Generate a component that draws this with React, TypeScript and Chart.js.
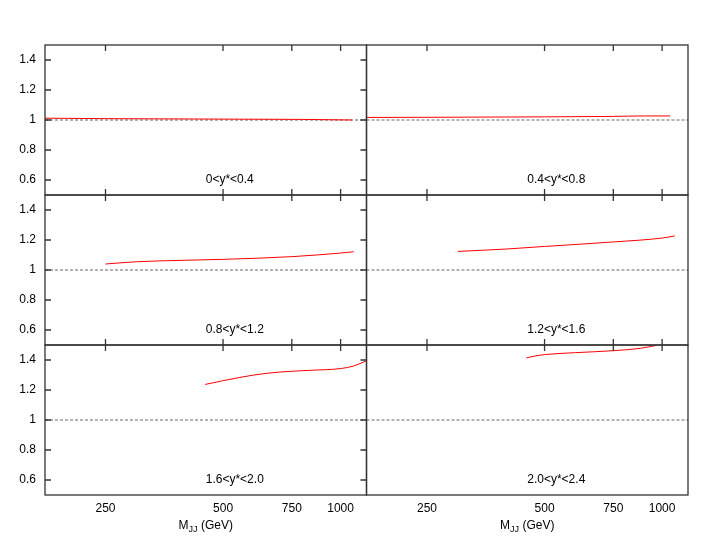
import React, { useEffect, useRef } from 'react';
import { Chart, registerables } from 'chart.js';

Chart.register(...registerables);

// ---- axis ticks and ranges ----
const xTickValues = [250, 500, 750, 1000];
const yTickValues = [0.6, 0.8, 1.0, 1.2, 1.4];
const xRange = [175, 1165];
const yRange = [0.5, 1.5];

// ---- panel labels (rapidity bins) ----
const panelLabels = ['0<y*<0.4', '0.4<y*<0.8', '0.8<y*<1.2', '1.2<y*<1.6', '1.6<y*<2.0', '2.0<y*<2.4'];

// ---- series: M_JJ (GeV) and ratio per rapidity bin ----
const mass1 = [175, 250, 500, 800, 1070];
const ratio1 = [1.012, 1.009, 1.006, 1.004, 1.0];

const mass2 = [175, 250, 500, 750, 900, 1048];
const ratio2 = [1.017, 1.018, 1.021, 1.024, 1.027, 1.027];

const mass3 = [250, 300, 400, 500, 750, 1000, 1080];
const ratio3 = [1.04, 1.055, 1.065, 1.071, 1.089, 1.113, 1.122];

const mass4 = [300, 400, 500, 750, 1000, 1077];
const ratio4 = [1.124, 1.14, 1.157, 1.187, 1.213, 1.227];

const mass5 = [450, 500, 600, 700, 850, 1000, 1080, 1165];
const ratio5 = [1.237, 1.262, 1.3, 1.32, 1.332, 1.343, 1.36, 1.395];

const mass6 = [449, 475, 500, 600, 750, 880, 965];
const ratio6 = [1.414, 1.428, 1.436, 1.449, 1.462, 1.478, 1.497];

// reference line at ratio 1
const refMass = [175, 1165];
const refRatio = [1, 1];

const massSeries = [mass1, mass2, mass3, mass4, mass5, mass6];
const ratioSeries = [ratio1, ratio2, ratio3, ratio4, ratio5, ratio6];

const X_IDS = ['xL', 'xR'];
const Y_IDS = ['yTop', 'yMid', 'yBot'];

const FONT = "'Liberation Sans', Arial, Helvetica, sans-serif";
const FRAME = '#333333';

const toPoints = (xs: number[], ys: number[]) => xs.map((x, i) => ({ x, y: ys[i] }));

const decorPlugin = {
  id: 'decor',
  afterDatasetsDraw(chart: any) {
    const ctx = chart.ctx as CanvasRenderingContext2D;
    const tick = 6;
    ctx.save();
    ctx.strokeStyle = FRAME;
    ctx.lineWidth = 1.3;
    for (let r = 0; r < 3; r++) {
      for (let c = 0; c < 2; c++) {
        const xs = chart.scales[X_IDS[c]];
        const ys = chart.scales[Y_IDS[r]];
        ctx.strokeRect(xs.left, ys.top, xs.right - xs.left, ys.bottom - ys.top);
        ctx.beginPath();
        for (const v of xTickValues) {
          const px = xs.getPixelForValue(v);
          ctx.moveTo(px, ys.top);
          ctx.lineTo(px, ys.top + tick);
          if (r < 2) {
            ctx.moveTo(px, ys.bottom);
            ctx.lineTo(px, ys.bottom - tick);
          }
        }
        if (c === 0) {
          for (const v of yTickValues) {
            const py = ys.getPixelForValue(v);
            ctx.moveTo(xs.left, py);
            ctx.lineTo(xs.left + tick, py);
            ctx.moveTo(xs.right, py);
            ctx.lineTo(xs.right - tick, py);
          }
        }
        ctx.stroke();
        // panel label
        ctx.fillStyle = '#000';
        ctx.font = `12px ${FONT}`;
        ctx.textAlign = 'left';
        ctx.textBaseline = 'middle';
        ctx.fillText(panelLabels[r * 2 + c], (xs.left + xs.right) / 2, ys.getPixelForValue(0.6));
      }
    }
    // axis titles M_JJ (GeV)
    for (let c = 0; c < 2; c++) {
      const xs = chart.scales[X_IDS[c]];
      const cx = (xs.left + xs.right) / 2;
      const y = xs.top + 31;
      ctx.font = `12px ${FONT}`;
      const wM = ctx.measureText('M').width;
      const wRest = ctx.measureText(' (GeV)').width;
      ctx.font = `9px ${FONT}`;
      const wSub = ctx.measureText('JJ').width;
      let x = cx - (wM + wSub + wRest) / 2;
      ctx.textAlign = 'left';
      ctx.textBaseline = 'middle';
      ctx.fillStyle = '#000';
      ctx.font = `12px ${FONT}`;
      ctx.fillText('M', x, y);
      x += wM;
      ctx.font = `9px ${FONT}`;
      ctx.fillText('JJ', x, y + 3.5);
      x += wSub;
      ctx.font = `12px ${FONT}`;
      ctx.fillText(' (GeV)', x, y);
    }
    ctx.restore();
  },
};

export default function App() {
  const canvasRef = useRef<HTMLCanvasElement | null>(null);

  useEffect(() => {
    const canvas = canvasRef.current;
    if (!canvas) return;

    const datasets: any[] = [];
    for (let i = 0; i < 6; i++) {
      const r = Math.floor(i / 2);
      const c = i % 2;
      datasets.push({
        label: 'ref' + i,
        data: toPoints(refMass, refRatio),
        xAxisID: X_IDS[c],
        yAxisID: Y_IDS[r],
        borderColor: '#666666',
        borderWidth: 1,
        borderDash: [3, 2],
        pointRadius: 0,
        fill: false,
        order: 2,
      });
      datasets.push({
        label: panelLabels[i],
        data: toPoints(massSeries[i], ratioSeries[i]),
        xAxisID: X_IDS[c],
        yAxisID: Y_IDS[r],
        borderColor: '#ff0000',
        borderWidth: 1,
        pointRadius: 0,
        fill: false,
        cubicInterpolationMode: 'monotone',
        order: 1,
      });
    }

    const xScale = () => ({
      type: 'logarithmic',
      position: 'bottom',
      stack: 'cols',
      stackWeight: 1,
      min: xRange[0],
      max: xRange[1],
      grid: { display: false, drawTicks: false },
      border: { display: false },
      afterBuildTicks: (s: any) => {
        s.ticks = xTickValues.map((v) => ({ value: v }));
      },
      afterFit: (s: any) => {
        s.height = 52;
      },
      ticks: {
        autoSkip: false,
        maxRotation: 0,
        padding: 6,
        color: '#000',
        font: { family: FONT, size: 12 },
        callback: (v: any) => String(v),
      },
    });

    const yScale = () => ({
      type: 'linear',
      position: 'left',
      stack: 'rows',
      stackWeight: 1,
      min: yRange[0],
      max: yRange[1],
      grid: { display: false, drawTicks: false },
      border: { display: false },
      afterBuildTicks: (s: any) => {
        s.ticks = yTickValues.map((v) => ({ value: v }));
      },
      afterFit: (s: any) => {
        s.width = 45;
      },
      ticks: {
        padding: 9,
        color: '#000',
        font: { family: FONT, size: 12 },
        callback: (v: any) => String(Math.round(v * 10) / 10),
      },
    });

    const scales: any = {};
    scales.xL = xScale();
    scales.xR = xScale();
    // order of definition decides stacking order (last defined on top)
    scales.yBot = yScale();
    scales.yMid = yScale();
    scales.yTop = yScale();

    const chart = new Chart(canvas, {
      type: 'line',
      data: { datasets },
      options: {
        animation: false,
        responsive: false,
        devicePixelRatio: 1,
        layout: { padding: { top: 45, right: 20, left: 0, bottom: 0 } },
        plugins: { legend: { display: false }, tooltip: { enabled: false } },
        scales,
      } as any,
      plugins: [decorPlugin],
    });

    return () => chart.destroy();
  }, []);

  return (
    <div style={{ position: 'fixed', left: 0, top: 0, width: 708, height: 547, background: '#fff' }}>
      <canvas ref={canvasRef} width={708} height={547} style={{ width: 708, height: 547, display: 'block' }} />
    </div>
  );
}
